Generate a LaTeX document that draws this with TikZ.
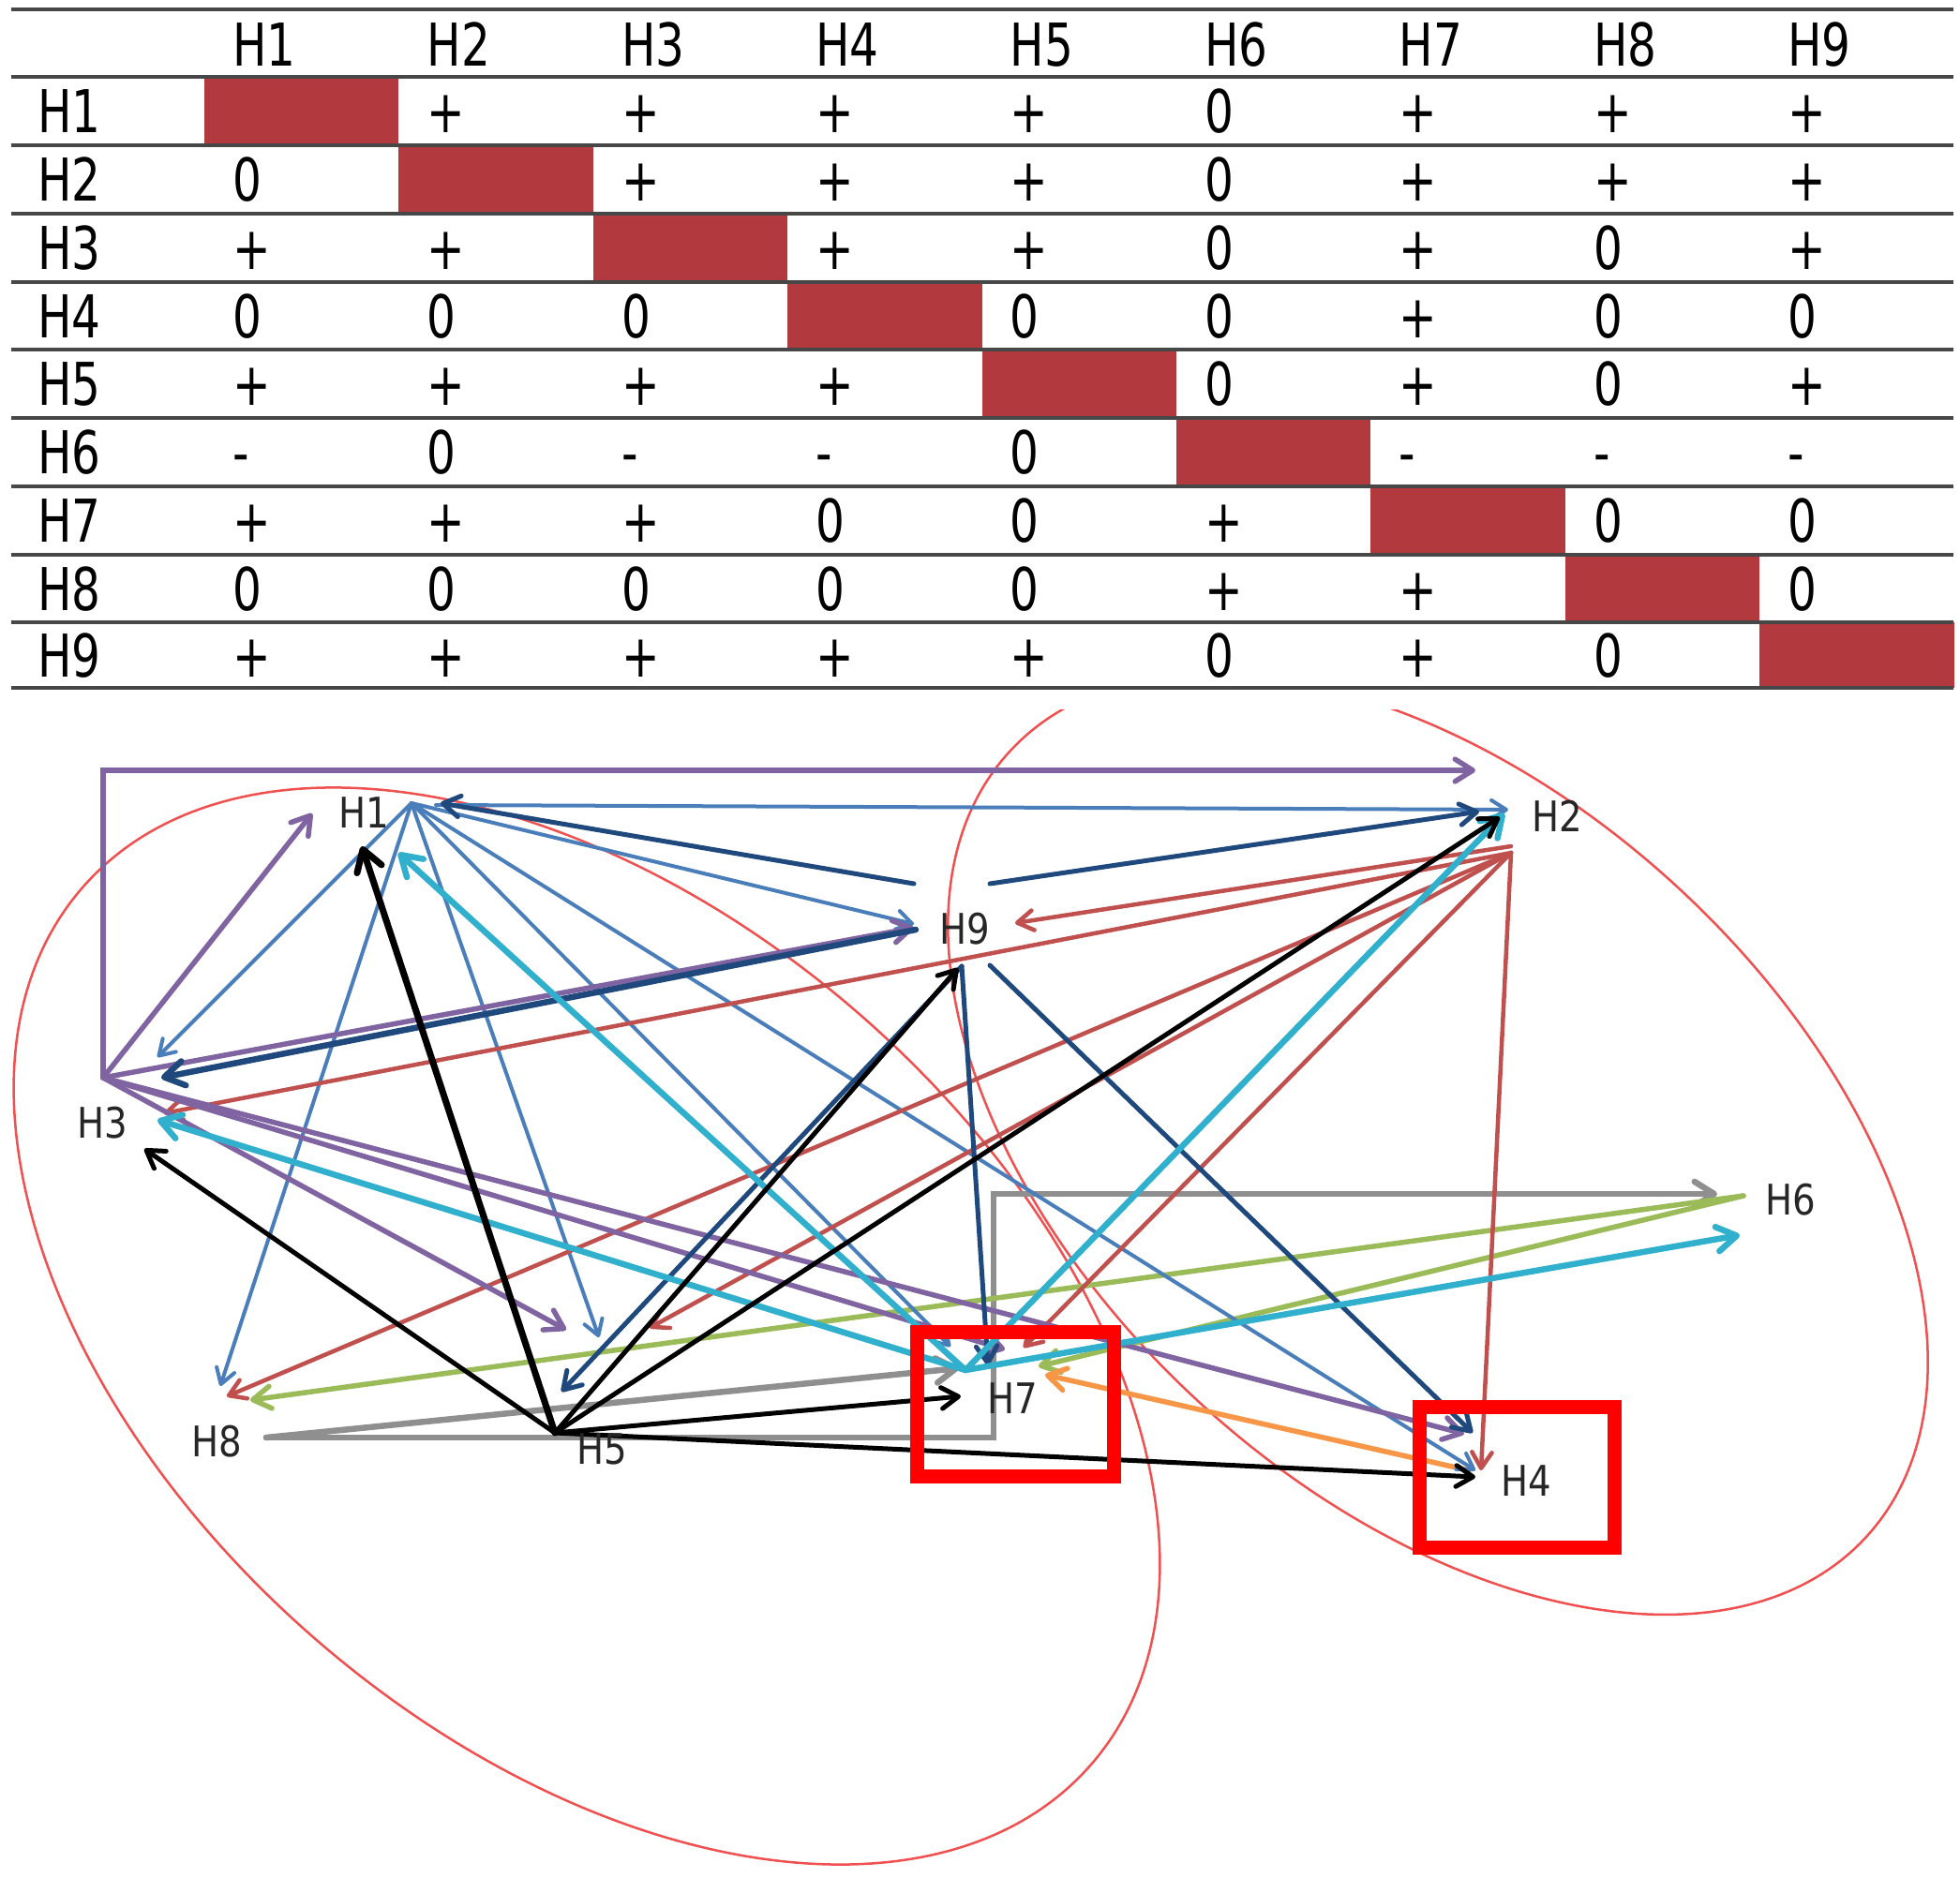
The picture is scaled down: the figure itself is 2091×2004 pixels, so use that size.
\documentclass[tikz,border=0pt]{standalone}
\usepackage{fontspec}
\setmainfont{DejaVu Sans}
\newfontfamily\tabfont{DejaVu Sans}[FakeStretch=0.77]
\newfontfamily\grfont{DejaVu Sans}[FakeStretch=0.86]
\usetikzlibrary{arrows.meta}
\definecolor{cellred}{RGB}{178,58,62}
\definecolor{ellred}{RGB}{240,80,80}
\definecolor{boxred}{RGB}{255,0,0}
\definecolor{cBlue}{RGB}{74,126,187}
\definecolor{cRed}{RGB}{192,80,77}
\definecolor{cPurple}{RGB}{128,100,162}
\definecolor{cOrange}{RGB}{247,150,70}
\definecolor{cGreen}{RGB}{155,187,89}
\definecolor{cCyan}{RGB}{49,176,205}
\definecolor{cGray}{RGB}{143,143,143}
\definecolor{cNavy}{RGB}{31,73,125}
\begin{document}
\begin{tikzpicture}[x=1pt, y=-1pt,
  tabline/.style={line width=4.5pt, draw=black!72},
  tabtxt/.style={font=\tabfont\fontsize{63}{70}\selectfont, inner sep=0pt, anchor=base west, text=black},
  glabel/.style={font=\grfont\fontsize{45}{50}\selectfont, inner sep=0pt, text=black!85},
  ell/.style={draw=ellred, line width=2.5pt},
  hbox/.style={draw=boxred, line width=15pt, line join=miter},
  conn/.style={line cap=round, -{Straight Barb[length=8pt 2, width=10pt 2.5, round]}},
  eb/.style={conn, draw=cBlue, line width=4pt},
  er/.style={conn, draw=cRed, line width=4.5pt},
  ep/.style={conn, draw=cPurple, line width=5.5pt},
  eo/.style={conn, draw=cOrange, line width=5.5pt},
  ek/.style={conn, draw=black, line width=5pt},
  eg/.style={conn, draw=cGreen, line width=5.5pt},
  ec/.style={conn, draw=cCyan, line width=6.5pt},
  ey/.style={conn, draw=cGray, line width=6.5pt},
  en/.style={conn, draw=cNavy, line width=5pt},
]
\useasboundingbox (0,0) rectangle (2091,2004);
\fill[white] (0,0) rectangle (2091,2004);

% ---------------- table ----------------
\foreach \k/\t/\b in {1/82/155,2/155/228,3/228/301,4/301/373,5/373/446,6/446/519,7/519/592,8/592/664,9/664/734}
  \fill[cellred] ({218+207.4*(\k-1)},\t) rectangle ({218+207.4*\k},\b);
\foreach \y in {10,82,155,228,301,373,446,519,592,664,734}
  \draw[tabline] (12,\y) -- (2084,\y);
\foreach \c in {1,...,9}
  \node[tabtxt] (hd\c) at ({248+207.4*(\c-1)},71) {H\c};
\foreach \r/\base/\vals in {
  1/141.5/{X,+,+,+,+,0,+,+,+},
  2/214.5/{0,X,+,+,+,0,+,+,+},
  3/287.5/{+,+,X,+,+,0,+,0,+},
  4/360/{0,0,0,X,0,0,+,0,0},
  5/432.5/{+,+,+,+,X,0,+,0,+},
  6/505.5/{-,0,-,-,0,X,-,-,-},
  7/578.5/{+,+,+,0,0,+,X,0,0},
  8/651/{0,0,0,0,0,+,+,X,0},
  9/722/{+,+,+,+,+,0,+,0,X}}{
  \node[tabtxt] (rl\r) at (40,\base) {H\r};
  \foreach \v [count=\c] in \vals {
    \if X\v\else
      \node[tabtxt] (c\r-\c) at ({248+207.4*(\c-1)},\base) {\v};
    \fi
  }
}

% ---------------- ellipses ----------------
\begin{scope}
  \clip (0,757) rectangle (2091,2004);
  \draw[ell, shift={(1534,1221)}, rotate=-42.5] (0,0) ellipse [x radius=620pt, y radius=375pt];
\end{scope}
\draw[ell, shift={(626,1415)}, rotate=-41] (0,0) ellipse [x radius=713pt, y radius=442pt];

% ---------------- attachment points ----------------
% H1
\coordinate (H1v) at (439,857);
\coordinate (H1r) at (465,859);
\coordinate (H1i3) at (333,868);
\coordinate (H1i5) at (386,903);
\coordinate (H1i7) at (425,910);
\coordinate (H1i9) at (470,857);
% H2
\coordinate (H2v) at (1612,910);
\coordinate (H2o9) at (1612,903);
\coordinate (H2i1) at (1609,864);
\coordinate (H2i9) at (1578,866);
\coordinate (H2i7) at (1605,868);
\coordinate (H2i5) at (1600,872);
\coordinate (H2i3) at (1574,822);
% H9
\coordinate (H9i1) at (975,986);
\coordinate (H9i3) at (975,990);
\coordinate (H9o1) at (975,943);
\coordinate (H9o2) at (1056,943);
\coordinate (H9o3) at (977,992);
\coordinate (H9b) at (1026,1031);
\coordinate (H9i5) at (1022,1033);
\coordinate (H9o4) at (1056,1030);
\coordinate (H9i2) at (1083,985);
% H3
\coordinate (H3v) at (110,1150);
\coordinate (H3c) at (110,822);
\coordinate (H3i1) at (168,1128);
\coordinate (H3i9) at (172,1150);
\coordinate (H3i2) at (175,1188);
\coordinate (H3i7) at (168,1195);
\coordinate (H3i5) at (154,1226);
% H5
\coordinate (H5v) at (592,1529);
\coordinate (H5i1) at (639,1427);
\coordinate (H5i3) at (604,1419);
\coordinate (H5i2) at (693,1417);
\coordinate (H5i9) at (599,1485);
% H7
\coordinate (H7v) at (1030,1462);
\coordinate (H7i1) at (1014,1437);
\coordinate (H7i2) at (1092,1438);
\coordinate (H7i3) at (1072,1440);
\coordinate (H7i4) at (1115,1467);
\coordinate (H7i5) at (1025,1490);
\coordinate (H7i6) at (1108,1458);
\coordinate (H7i8) at (1023,1460);
\coordinate (H7i9) at (1054,1457);
% H4
\coordinate (H4v) at (1567,1569);
\coordinate (H4i1) at (1574,1569);
\coordinate (H4i2) at (1580,1569);
\coordinate (H4i3) at (1562,1530);
\coordinate (H4i5) at (1574,1576);
\coordinate (H4i9) at (1571,1529);
% H6
\coordinate (H6v) at (1860,1276);
\coordinate (H6i8) at (1832,1274);
\coordinate (H6i7) at (1856,1318);
% H8
\coordinate (H8v) at (284,1534);
\coordinate (H8c1) at (1060,1534);
\coordinate (H8c2) at (1060,1274);
\coordinate (H8i1) at (235,1479);
\coordinate (H8i2) at (242,1490);
\coordinate (H8i6) at (267,1494);

% ---------------- connectors ----------------
% gray (H8)
\draw[ey] (H8v) -- (H7i8);
\draw[ey] (H8v) -- (H8c1) -- (H8c2) -- (H6i8);
% green (H6)
\draw[eg] (H6v) -- (H8i6);
\draw[eg] (H6v) -- (H7i6);
% orange (H4)
\draw[eo] (H4v) -- (H7i4);
% blue (H1)
\draw[eb] (H1r) -- (H2i1);
\draw[eb] (H1v) -- (H9i1);
\draw[eb] (H1v) -- (H3i1);
\draw[eb] (H1v) -- (H8i1);
\draw[eb] (H1v) -- (H5i1);
\draw[eb] (H1v) -- (H7i1);
\draw[eb] (H1v) -- (H4i1);
% red (H2)
\draw[er] (H2o9) -- (H9i2);
\draw[er] (H2v) -- (H3i2);
\draw[er] (H2v) -- (H8i2);
\draw[er] (H2v) -- (H5i2);
\draw[er] (H2v) -- (H7i2);
\draw[er] (H2v) -- (H4i2);
% purple (H3)
\draw[ep] (H3v) -- (H1i3);
\draw[ep] (H3v) -- (H3c) -- (H2i3);
\draw[ep] (H3v) -- (H9i3);
\draw[ep] (H3v) -- (H5i3);
\draw[ep] (H3v) -- (H7i3);
\draw[ep] (H3v) -- (H4i3);
% navy (H9)
\draw[en] (H9o1) -- (H1i9);
\draw[en] (H9o2) -- (H2i9);
\draw[en, line width=6.5pt] (H9o3) -- (H3i9);
\draw[en] (H9b) -- (H5i9);
\draw[en] (H9b) -- (H7i9);
\draw[en] (H9o4) -- (H4i9);
% cyan (H7)
\draw[ec] (H7v) -- (H1i7);
\draw[ec] (H7v) -- (H2i7);
\draw[ec] (H7v) -- (H3i7);
\draw[ec] (H7v) -- (H6i7);
% black (H5)
\draw[ek, line width=7pt] (H5v) -- (H1i5);
\draw[ek] (H5v) -- (H3i5);
\draw[ek] (H5v) -- (H9i5);
\draw[ek] (H5v) -- (H2i5);
\draw[ek] (H5v) -- (H7i5);
\draw[ek] (H5v) -- (H4i5);

% ---------------- labels ----------------
\node[glabel] (H1) at (388,867) {H1};
\node[glabel] (H2) at (1661,871) {H2};
\node[glabel] (H9) at (1029,991) {H9};
\node[glabel] (H3) at (109,1198) {H3};
\node[glabel] (H6) at (1910,1280) {H6};
\node[glabel] (H8) at (231,1538) {H8};
\node[glabel] (H5) at (642,1546) {H5};
\node[glabel] (H7) at (1080,1492) {H7};
\node[glabel] (H4) at (1628,1580) {H4};

% ---------------- highlight boxes ----------------
\draw[hbox] (978,1421) rectangle (1188,1575);
\draw[hbox] (1514,1501) rectangle (1722,1651);
\end{tikzpicture}
\end{document}
